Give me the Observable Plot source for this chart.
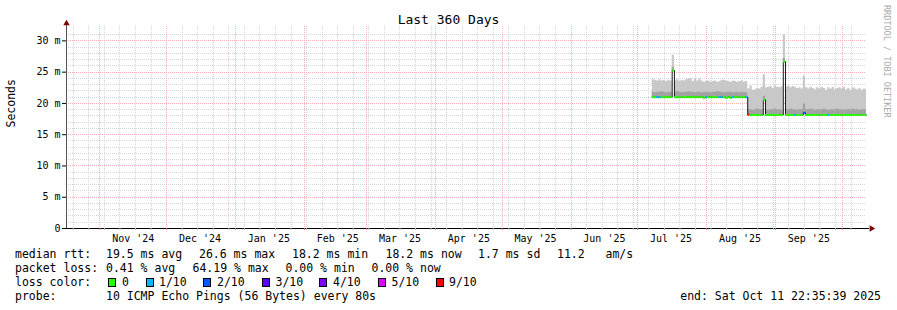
<!DOCTYPE html>
<html><head><meta charset="utf-8">
<script src="https://cdn.jsdelivr.net/npm/d3@7"></script>
<script src="https://cdn.jsdelivr.net/npm/@observablehq/plot@0.6"></script>
<style>
body{margin:0;background:#fff;}
#wrap{position:relative;width:897px;height:310px;font-family:"DejaVu Sans Mono",monospace;color:#000;overflow:hidden;}
#chart{position:absolute;left:0;top:0;}
#title{position:absolute;left:0;width:897px;text-align:center;top:13px;font-size:13px;line-height:13px;}
.leg{position:absolute;left:0;width:897px;height:14px;font-size:11.5px;line-height:14px;white-space:pre;}
.leg span{position:absolute;top:0;}
.box{position:absolute;width:6px;height:7px;border:1px solid #000;}
#credit{position:absolute;left:882px;top:5px;writing-mode:vertical-rl;font-size:8.5px;line-height:10px;color:#aaa;white-space:pre;}
</style></head>
<body><div id="wrap"><div id="chart"></div><div id="title"></div><div id="credit"></div><div id="legend"></div></div>
<script>
// ---- data ----
const titleText = "Last 360 Days";
const rangeStart = "2024-10-16T22:35:39Z";
const rangeEnd = "2025-10-11T22:35:39Z";
const firstBin = "2025-07-07T12:00:00Z"; // daily bins
const yMax = 32.3;
const yTicks = [0, 5, 10, 15, 20, 25, 30];
const yTickLabels = ["0", "5 m", "10 m", "15 m", "20 m", "25 m", "30 m"];
const monthStarts = ["2024-11-01","2024-12-01","2025-01-01","2025-02-01","2025-03-01","2025-04-01","2025-05-01","2025-06-01","2025-07-01","2025-08-01","2025-09-01","2025-10-01"];
const monthLabels = ["Nov '24","Dec '24","Jan '25","Feb '25","Mar '25","Apr '25","May '25","Jun '25","Jul '25","Aug '25","Sep '25"];
// median rtt (ms) per day
const medianMs = [
 21.0,21.0,21.0,21.0,21.0,21.0,21.0,21.0,21.0,25.3,
 21.0,21.0,21.0,21.0,21.0,21.0,21.0,21.0,21.0,21.0,
 21.0,21.0,21.0,20.9,21.0,21.0,21.0,21.0,21.0,21.0,
 21.0,21.0,21.0,20.9,21.0,20.9,21.0,21.0,21.0,21.0,
 21.0,21.0,21.0,
 18.2,18.15,18.15,18.15,18.15,18.15,18.15,20.6,18.15,18.15,
 18.15,18.15,18.15,18.15,18.15,18.15,26.7,18.15,18.15,18.15,
 18.15,18.15,18.15,18.15,18.15,18.5,18.15,18.15,18.15,18.15,
 18.15,18.15,18.15,18.15,18.15,18.15,18.15,18.15,18.15,18.15,
 18.15,18.15,18.15,18.15,18.15,18.15,18.15,18.15,18.15,18.15,
 18.15,18.15,18.15,18.15];
// upper edge of the dense (dark) smoke
const denseTopMs = [
 21.8,21.7,21.8,21.8,21.9,21.8,21.7,21.8,21.8,25.8,
 21.8,21.9,21.8,21.7,21.8,21.8,21.9,21.8,21.8,21.7,
 21.8,21.8,21.7,21.8,21.8,21.8,21.7,21.8,21.8,21.9,
 21.8,21.8,21.7,21.8,21.8,21.8,21.7,21.8,21.8,21.7,
 21.8,21.8,21.7,
 19.0,19.0,18.9,19.0,19.1,19.0,19.0,21.1,19.0,18.9,
 19.0,19.0,19.1,19.0,19.0,18.9,27.2,19.0,19.0,19.1,
 19.0,19.0,18.9,19.0,19.0,19.9,19.0,19.0,19.1,19.0,
 18.9,19.0,19.0,19.0,19.1,19.0,18.9,19.0,19.0,19.0,
 19.1,19.0,19.0,18.9,19.0,19.0,19.0,19.1,19.0,19.0,
 18.9,19.0,19.0,19.0];
// upper edge of all smoke
const smokeTopMs = [
 23.8,23.7,23.6,23.8,23.6,23.7,23.5,23.7,23.6,27.7,
 23.6,23.8,23.5,23.7,23.6,23.8,23.9,24.0,23.5,23.9,
 23.6,23.9,23.6,23.4,23.5,23.6,23.4,23.5,23.6,23.4,
 23.5,23.7,23.7,23.6,23.5,23.4,23.6,23.5,23.4,23.5,
 23.6,23.4,23.5,
 22.3,22.8,22.1,22.2,22.4,22.3,22.6,24.6,22.5,22.6,
 22.7,22.4,22.8,22.6,22.5,22.7,30.9,22.6,22.8,22.5,
 22.7,22.6,22.4,22.5,22.3,24.4,22.5,22.3,22.6,22.4,
 22.2,22.5,22.3,22.6,22.4,22.1,22.5,22.3,22.6,22.2,
 22.4,22.5,22.3,22.6,22.2,22.4,22.1,22.5,22.3,22.2,
 22.4,22.1,22.3,22.2];
// loss class per day (0 = 0, 1 = 1/10, 2 = 2/10 ... 6 = 9/10)
const lossClass = [
 0,0,1,1,0,0,0,0,0,0,
 0,0,0,0,0,0,0,0,0,0,
 0,0,0,0,1,0,0,0,0,0,
 1,1,0,0,0,0,1,0,0,0,
 0,0,1,
 6,0,0,0,0,0,0,0,0,0,
 0,0,0,0,0,0,0,0,0,0,
 0,1,0,0,0,2,0,0,0,0,
 0,0,0,0,0,0,1,0,0,0,
 0,0,0,0,0,0,0,0,0,0,
 0,0,0,0];
const lossLabels = ["0","1/10","2/10","3/10","4/10","5/10","9/10"];
const lossColors = ["#26ff00","#00b8ff","#0059ff","#5e00ff","#7e00ff","#dd00ff","#ff0000"];
const rttLegend = ["median rtt:","19.5 ms avg","26.6 ms max","18.2 ms min","18.2 ms now","1.7 ms sd","11.2","am/s"];
const lossLegend = ["packet loss:","0.41 % avg","64.19 % max","0.00 % min","0.00 % now"];
const probeLegend = ["probe:","10 ICMP Echo Pings (56 Bytes) every 80s"];
const endLegend = "end: Sat Oct 11 22:35:39 2025";
const creditText = "RRDTOOL / TOBI OETIKER";

// ---- build ----
const start = new Date(rangeStart), end = new Date(rangeEnd);
const b0 = new Date(firstBin);
const bins = medianMs.map((m, i) => ({
  t0: d3.utcDay.offset(b0, i),
  t1: i < medianMs.length - 1 ? d3.utcDay.offset(b0, i + 1) : end,
  median: m, dense: denseTopMs[i], top: smokeTopMs[i], color: lossColors[lossClass[i]]
}));
const last = bins[bins.length - 1];
const pts = [...bins, {t0: end, median: last.median, dense: last.dense, top: last.top}];
const months = monthStarts.map(s => new Date(s + "T00:00:00Z"));
const labelDates = months.slice(0, monthLabels.length).map(d => d3.utcDay.offset(d, 15));
const labelMap = new Map(labelDates.map((d, i) => [+d, monthLabels[i]]));
const yLabelMap = new Map(yTicks.map((v, i) => [v, yTickLabels[i]]));
const weeks = d3.utcSunday.range(start, end).filter(d => d3.utcDay.floor(d).getUTCDate() !== 1);
const minorY = d3.range(1, Math.floor(yMax)).filter(v => v % 5 !== 0);
const majorY = yTicks.filter(v => v > 0);
const gridMinor = {stroke: "#d6d6d6", strokeDasharray: "1,1", shapeRendering: "crispEdges"};
const gridMajor = {stroke: "#f5b2b2", strokeDasharray: "1,1", shapeRendering: "crispEdges"};

const chart = Plot.plot({
  width: 897, height: 250,
  marginLeft: 66, marginRight: 31, marginTop: 26, marginBottom: 22,
  style: {fontFamily: "'DejaVu Sans Mono', monospace", fontSize: "10px", background: "transparent", overflow: "visible", color: "#000"},
  x: {type: "utc", domain: [start, end], axis: null},
  y: {domain: [0, yMax], axis: null},
  color: {type: "identity"},
  marks: [
    Plot.ruleY(minorY, gridMinor),
    Plot.ruleX(weeks, gridMinor),
    Plot.ruleY(majorY, gridMajor),
    Plot.ruleX(months, gridMajor),
    Plot.areaY(pts, {x: "t0", y1: "median", y2: "top", curve: "step-after", fill: "#c8c8c8"}),
    Plot.areaY(pts, {x: "t0", y1: "median", y2: "dense", curve: "step-after", fill: "#a2a2a2"}),
    Plot.line(pts, {x: "t0", y: "median", curve: "step-after", stroke: "#1a1a1a", strokeWidth: 1}),
    Plot.ruleY(bins, {y: "median", x1: "t0", x2: "t1", stroke: "color", strokeWidth: 2}),
    Plot.ruleX([start], {stroke: "#555", insetTop: -4}),
    Plot.ruleY([0], {stroke: "#000", insetLeft: -4, insetRight: -3}),
    Plot.axisY(yTicks, {tickSize: 4, tickPadding: 2, tickFormat: v => yLabelMap.get(v), stroke: "#000"}),
    Plot.axisX(weeks, {tickSize: 2, tickFormat: () => "", stroke: "#bbb"}),
    Plot.axisX(months, {tickSize: 2, tickFormat: () => "", stroke: "#e07070"}),
    Plot.axisX(labelDates, {tickSize: 0, tickPadding: 6.5, tickFormat: d => labelMap.get(+d)}),
    Plot.dot([0], {frameAnchor: "top-left", dy: -3, symbol: "triangle", r: 2.4, fill: "#7f0000", stroke: null}),
    Plot.dot([0], {frameAnchor: "bottom-right", dx: 5, symbol: "triangle", rotate: 90, r: 2.4, fill: "#7f0000", stroke: null}),
    Plot.text(["Seconds"], {frameAnchor: "left", dx: -55, rotate: -90, text: d => d, fontSize: 11.5, fill: "#000"})
  ]
});
document.getElementById("chart").appendChild(chart);
document.getElementById("title").textContent = titleText;
document.getElementById("credit").textContent = creditText;

// ---- legend (below the chart) ----
const legend = document.getElementById("legend");
function line(top, items, xs) {
  const div = document.createElement("div");
  div.className = "leg"; div.style.top = top + "px";
  items.forEach((t, i) => {
    const s = document.createElement("span");
    s.textContent = t; s.style.left = xs[i] + "px";
    div.appendChild(s);
  });
  legend.appendChild(div);
  return div;
}
line(247, rttLegend, [15, 106, 199, 292, 385.5, 478, 557, 605.5]);
line(261, lossLegend, [15, 106, 192.5, 285.5, 371.5]);
line(275, ["loss color:", ...lossLabels], [15, 122, 159, 217, 275.5, 333, 391.5, 449]);
const boxX = [108, 146, 203, 262, 319, 378, 436];
lossColors.forEach((c, i) => {
  const b = document.createElement("div");
  b.className = "box"; b.style.left = boxX[i] + "px"; b.style.top = "278px"; b.style.background = c;
  legend.appendChild(b);
});
line(289, probeLegend, [15, 106]);
const e = document.createElement("div");
e.className = "leg"; e.style.top = "289px"; e.style.left = "auto"; e.style.right = "16px"; e.style.width = "auto";
e.textContent = endLegend;
legend.appendChild(e);
</script>
</body></html>
